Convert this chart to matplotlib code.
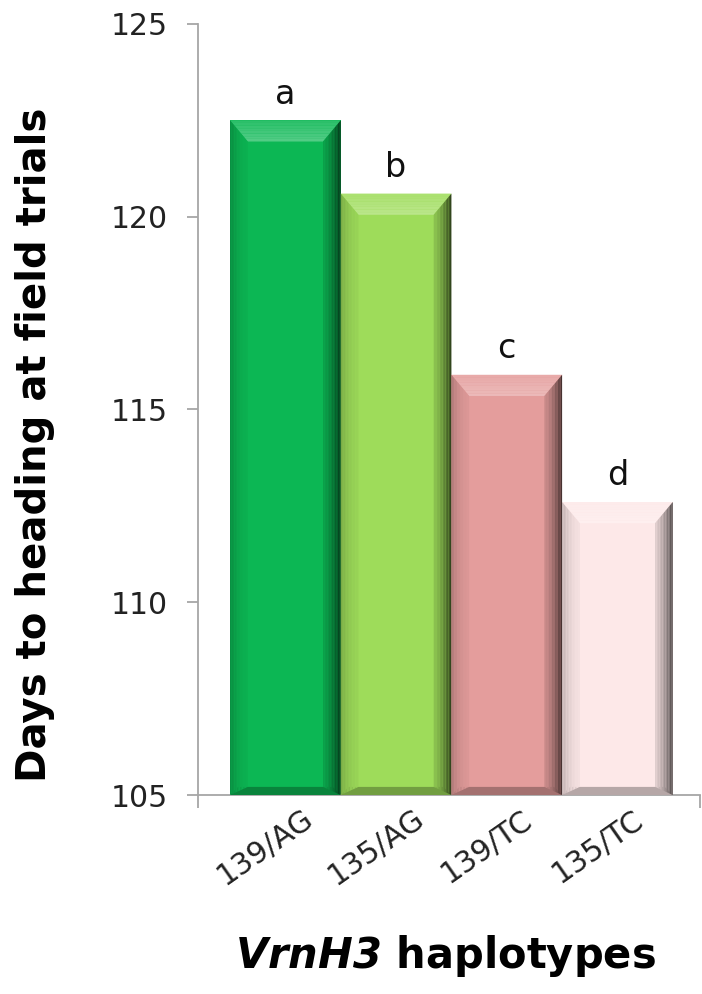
# heading date by VrnH3 haplotype, bevelled bar chart
import matplotlib
matplotlib.use("Agg")
import matplotlib.pyplot as plt
import matplotlib.transforms as mtransforms
from matplotlib.patches import Polygon
import numpy as np

haplotypes = ["139/AG", "135/AG", "139/TC", "135/TC"]
days = [122.5, 120.6, 115.9, 112.6]
groups = ["a", "b", "c", "d"]
bar_colors = ["#0cb754", "#9edc5a", "#e49d9c", "#fde8e8"]

y_min, y_max = 105, 125
y_ticks = [105, 110, 115, 120, 125]


def shade(rgb, f):
    rgb = np.asarray(rgb)
    if f >= 1:
        return tuple(rgb + (1 - rgb) * (f - 1))
    return tuple(rgb * f)


def bevel_bar(ax, xc, top, color, width=1.0):
    base = np.array(matplotlib.colors.to_rgb(color))
    x0, x1 = xc - width / 2, xc + width / 2
    yb = y_min
    bx, by, bb = 0.16, 0.55, 0.21   # bevel sizes (x units, y units top, y units bottom)
    ax.bar(xc, top - yb, width=width, bottom=yb, color=base, edgecolor="none", zorder=2)
    # top band, brighter toward the inner edge
    n = 8
    for k in range(n):
        ta, tb = k / n, (k + 1) / n
        c = shade(base, 1.12 + 0.18 * ((ta + tb) / 2))
        ax.add_patch(Polygon([(x0 + bx * ta, top - by * ta), (x1 - bx * ta, top - by * ta),
                              (x1 - bx * tb, top - by * tb), (x0 + bx * tb, top - by * tb)],
                             closed=True, color=c, lw=0, zorder=3))
    # bottom band
    ax.add_patch(Polygon([(x0, yb), (x1, yb), (x1 - bx * 0.45, yb + bb), (x0 + bx * 0.45, yb + bb)],
                         closed=True, color=shade(base, 0.72), lw=0, zorder=3))
    n = 12
    for k in range(n):
        ta, tb = k / n, (k + 1) / n
        # right side, darkening toward the edge
        xa, xb = x1 - bx * (1 - ta), x1 - bx * (1 - tb)
        c = shade(base, 0.88 - 0.6 * ((ta + tb) / 2) ** 1.5)
        ax.add_patch(Polygon([(xa, top - by * (1 - ta)), (xb, top - by * (1 - tb)),
                              (xb, yb + bb * (1 - tb)), (xa, yb + bb * (1 - ta))],
                             closed=True, color=c, lw=0, zorder=3))
        # left side, slightly darker at the edge
        xa, xb = x0 + bx * (1 - ta), x0 + bx * (1 - tb)
        c = shade(base, 0.96 - 0.2 * ((ta + tb) / 2) ** 2)
        ax.add_patch(Polygon([(xa, top - by * (1 - ta)), (xb, top - by * (1 - tb)),
                              (xb, yb + bb * (1 - tb)), (xa, yb + bb * (1 - ta))],
                             closed=True, color=c, lw=0, zorder=3))


fig = plt.figure(figsize=(7.02, 9.94), dpi=100)
ax = fig.add_axes([0.282, 0.2002, 0.715, 0.7757])

x = np.arange(len(haplotypes))
for xi, d, col in zip(x, days, bar_colors):
    bevel_bar(ax, xi, d, col)

x_lo, x_hi = -0.79, 3.745
ax.set_xlim(x_lo, x_hi)
ax.set_ylim(y_min, y_max)

for s in ["top", "right"]:
    ax.spines[s].set_visible(False)
for s in ["left", "bottom"]:
    ax.spines[s].set_color("#a6a6a6")
    ax.spines[s].set_linewidth(1.3)

ax.set_yticks(y_ticks)
ax.set_yticklabels([str(t) for t in y_ticks], fontsize=21.5, color="#222222")
ax.tick_params(axis="y", direction="out", length=8, width=1.3, color="#a6a6a6", pad=13.5)
ax.set_xticks([x_lo, x_hi])
ax.set_xticklabels(["", ""])
ax.tick_params(axis="x", direction="out", length=9, width=1.3, color="#a6a6a6")

# rotated category labels
lab_tr = mtransforms.blended_transform_factory(ax.transData, ax.transAxes)
for xi, name in zip(x, haplotypes):
    ax.text(xi - 0.18, -0.067, name, transform=lab_tr, rotation=35,
            rotation_mode="anchor", ha="center", va="center", fontsize=21.5, color="#222222")

# significance letters
for xi, d, g in zip(x, days, groups):
    ax.annotate(g, (xi, d), xytext=(0, 7), textcoords="offset points",
                ha="center", va="bottom", fontsize=24, color="#111111")

fig.text(0.05, 0.552, "Days to heading at field trials", rotation=90, ha="center", va="center",
         fontsize=29, fontweight="bold")
fig.text(0.3347, 0.038, r"$\mathbfit{VrnH3}$ haplotypes", ha="left", va="center",
         fontsize=30, fontweight="bold")

fig.savefig("out.png", dpi=100)
